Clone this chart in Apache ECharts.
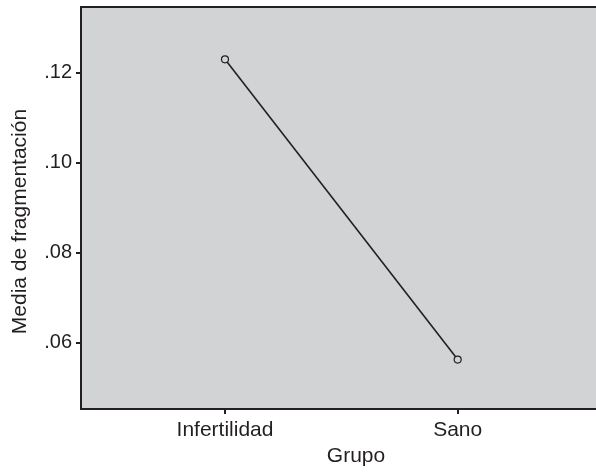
<!DOCTYPE html>
<html>
<head>
<meta charset="utf-8">
<script src="https://cdn.jsdelivr.net/npm/echarts@6/dist/echarts.min.js"></script>
<style>html,body{margin:0;padding:0;background:#fff;overflow:hidden}#c{width:640px;height:472px}</style>
</head>
<body>
<div id="c"></div>
<script>
const categories = ['Infertilidad', 'Sano'];
const means = [0.1230, 0.0562];
const yTicks = [0.06, 0.08, 0.10, 0.12];
const xTitle = 'Grupo';
const yTitle = 'Media de fragmentación';

const font = '"Liberation Sans", Arial, sans-serif';
const ink = '#231f20';
const panel = '#d2d3d5';
const chart = echarts.init(document.getElementById('c'));
const catIdx = categories.map((c, i) => i);
chart.setOption({
  animation: false,
  grid: {
    left: 81, right: 9, top: 7, bottom: 59.5,
    show: true, backgroundColor: panel, borderColor: ink, borderWidth: 2
  },
  xAxis: {
    type: 'value', min: -0.6188, max: 1.7448,
    name: xTitle, nameLocation: 'middle', nameGap: 35,
    nameTextStyle: { fontFamily: font, fontSize: 21, color: ink },
    axisLine: { show: false, onZero: false },
    axisTick: { show: true, customValues: catIdx, length: 5, lineStyle: { color: ink, width: 2 } },
    axisLabel: { customValues: catIdx, formatter: v => categories[Math.round(v)], fontFamily: font, fontSize: 21, color: ink, margin: 11 },
    splitLine: { show: false }
  },
  yAxis: {
    type: 'value', min: 0.04518, max: 0.13463,
    name: yTitle, nameLocation: 'middle', nameGap: 50, nameRotate: 90,
    nameTextStyle: { fontFamily: font, fontSize: 21, color: ink, padding: [0, 27, 0, 0] },
    axisLine: { show: false, onZero: false },
    axisTick: { show: true, customValues: yTicks, length: 5, lineStyle: { color: ink, width: 2 } },
    axisLabel: { customValues: yTicks, formatter: v => v.toFixed(2).replace(/^0/, ''), fontFamily: font, fontSize: 20, color: ink, margin: 9 },
    splitLine: { show: false }
  },
  series: [{
    type: 'line',
    data: means.map((m, i) => [i, m]),
    symbol: 'circle', symbolSize: 7,
    lineStyle: { color: ink, width: 1.6 },
    itemStyle: { color: panel, borderColor: ink, borderWidth: 1.2 }
  }]
});
</script>
</body>
</html>
